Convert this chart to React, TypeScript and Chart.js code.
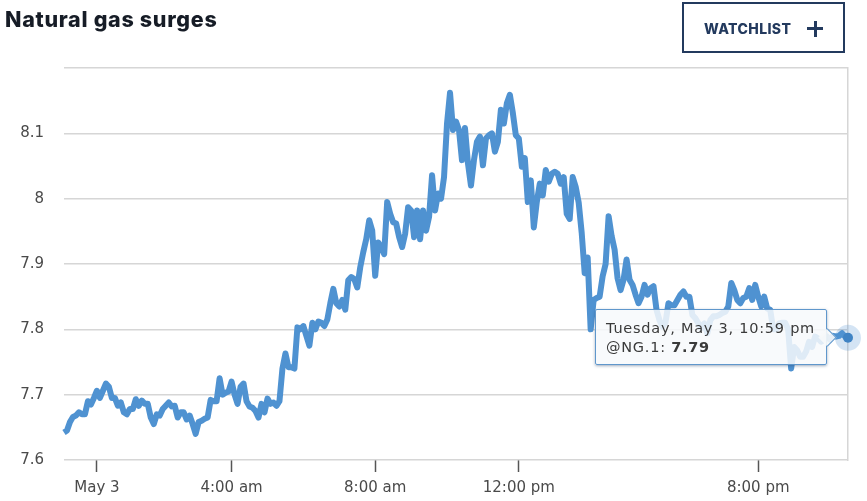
import { useEffect, useRef } from 'react';
import { Chart, registerables } from 'chart.js';

Chart.register(...registerables);

const overnight = [
  7.642, 7.645, 7.658, 7.666, 7.668, 7.673, 7.67, 7.67, 7.69, 7.685, 7.695, 7.706, 7.695, 7.706, 7.717, 7.712,
  7.695, 7.695, 7.683, 7.688, 7.673, 7.67, 7.678, 7.678, 7.693, 7.683, 7.691, 7.686, 7.686, 7.665, 7.655, 7.67,
  7.668, 7.678, 7.683, 7.688, 7.682, 7.683, 7.665, 7.673, 7.673, 7.662, 7.668, 7.655, 7.64, 7.658, 7.66, 7.663,
  7.665, 7.692, 7.69, 7.69, 7.725, 7.7, 7.703, 7.705, 7.72, 7.7, 7.686, 7.712, 7.717, 7.69, 7.682, 7.68,
  7.675, 7.665, 7.686, 7.673, 7.694, 7.686, 7.688, 7.683, 7.69, 7.74, 7.763, 7.742, 7.742, 7.74, 7.803,
];
const morning = [
  7.8, 7.805, 7.79, 7.775, 7.81, 7.8, 7.812, 7.81, 7.805, 7.815, 7.84, 7.862, 7.84, 7.835, 7.845, 7.83,
  7.875, 7.88, 7.877, 7.864, 7.895, 7.918, 7.938, 7.967, 7.951, 7.882, 7.933, 7.926, 7.915, 7.995, 7.977, 7.964,
  7.962, 7.941, 7.926, 7.946, 7.987, 7.982, 7.941, 7.982, 7.938, 7.982, 7.951, 7.972, 8.036, 7.982, 8.008, 8.0,
  8.033, 8.115, 8.162, 8.105, 8.118, 8.105, 8.059, 8.108, 8.054, 8.02, 8.059, 8.087, 8.095, 8.051, 8.092, 8.097,
  8.1, 8.072, 8.087, 8.136, 8.115, 8.146, 8.159, 8.131, 8.097, 8.092,
];
const afternoon = [
  8.049, 8.062, 7.995, 8.028, 7.956, 7.995, 8.023, 8.005, 8.044, 8.026, 8.038, 8.041, 8.038, 8.023, 8.033, 7.977,
  7.969, 8.033, 8.018, 7.994, 7.948, 7.886, 7.91, 7.8, 7.845, 7.848, 7.85, 7.881, 7.9, 7.973, 7.943, 7.922,
  7.878, 7.86, 7.876, 7.907, 7.876, 7.868, 7.853, 7.84, 7.85, 7.868, 7.853, 7.863, 7.866, 7.83, 7.814, 7.804,
  7.81, 7.84, 7.837, 7.837, 7.845, 7.853, 7.858, 7.85, 7.85, 7.822, 7.817, 7.809, 7.802, 7.809, 7.794, 7.814,
];
const evening = [
  7.82, 7.82, 7.822, 7.825, 7.827, 7.835, 7.871, 7.86, 7.845, 7.84, 7.848, 7.85, 7.863, 7.845, 7.868, 7.85,
  7.835, 7.85, 7.832, 7.83, 7.8, 7.8, 7.809, 7.81, 7.81, 7.8, 7.74, 7.773, 7.768, 7.758, 7.758, 7.766,
  7.781, 7.773, 7.789, 7.786, 7.781, 7.784, 7.789, 7.784, 7.79, 7.789, 7.79, 7.794, 7.789, 7.787,
];
const prices = [...overnight, ...morning, ...afternoon, ...evening];

const tickIndexes = [11, 56, 104, 152, 232];
const tickLabels = ['May 3', '4:00 am', '8:00 am', '12:00 pm', '8:00 pm'];
const lastTime = 'Tuesday, May 3, 10:59 pm';
const symbol = '@NG.1';

const last = prices.length - 1;
const xLabels = prices.map((_, i) => (tickIndexes.includes(i) ? tickLabels[tickIndexes.indexOf(i)] : ''));
const markerValues = prices.map((v, i) => (i === last ? v : null));

const LINE = '#4f92d1';
const GRID = '#d6d6d6';
const TEXT = '#4a4a4a';
const NAVY = '#233a5e';

export default function App() {
  const canvasRef = useRef<HTMLCanvasElement>(null);
  const tipRef = useRef<HTMLDivElement>(null);
  const tipTitleRef = useRef<HTMLDivElement>(null);
  const tipValueRef = useRef<HTMLElement>(null);

  useEffect(() => {
    if (!canvasRef.current) return;
    const chart = new Chart(canvasRef.current, {
      type: 'line',
      data: {
        labels: xLabels,
        datasets: [
          {
            label: symbol,
            data: prices,
            borderColor: LINE,
            borderWidth: 6,
            borderJoinStyle: 'round',
            tension: 0,
            clip: false,
            pointRadius: (c: any) => (c.dataIndex === last ? 5 : 0),
            pointBackgroundColor: '#3f83c4',
            pointBorderWidth: 0,
          },
          {
            label: 'halo',
            data: markerValues,
            showLine: false,
            clip: false,
            pointRadius: 13,
            pointBackgroundColor: 'rgba(74, 143, 208, 0.24)',
            pointBorderWidth: 0,
          },
        ],
      },
      options: {
        responsive: false,
        animation: false,
        events: [],
        layout: { padding: { top: 68, right: 19, left: 0, bottom: 0 } },
        plugins: {
          legend: { display: false },
          tooltip: {
            enabled: false,
            callbacks: { title: () => lastTime },
            external: ({ tooltip }: any) => {
              if (!tipRef.current || !tooltip.dataPoints?.length) return;
              tipRef.current.style.left = `${tooltip.caretX - 253}px`;
              tipRef.current.style.top = `${tooltip.caretY - 29}px`;
              tipRef.current.style.display = 'block';
              tipTitleRef.current!.textContent = tooltip.title[0];
              tipValueRef.current!.textContent = tooltip.dataPoints[0].parsed.y.toFixed(2);
            },
          },
        },
        scales: {
          x: {
            afterFit: (s: any) => { s.height = 41; },
            afterBuildTicks: (s: any) => { s.ticks = tickIndexes.map((value) => ({ value })); },
            border: { display: false },
            grid: { drawOnChartArea: false, drawTicks: true, tickLength: 12, tickColor: '#555', tickWidth: 1.5 },
            ticks: {
              autoSkip: false,
              maxRotation: 0,
              padding: 7,
              color: TEXT,
              font: { family: 'DejaVu Sans', size: 15 },
            },
          },
          y: {
            min: 7.6,
            max: 8.2,
            afterFit: (s: any) => { s.width = 64; },
            border: { display: false },
            grid: { color: GRID, lineWidth: 1.5, drawTicks: false },
            ticks: {
              stepSize: 0.1,
              padding: 20,
              color: TEXT,
              font: { family: 'DejaVu Sans', size: 15 },
              callback: (v: any) => (Number(v) > 8.15 ? '' : `${+Number(v).toFixed(1)}`),
            },
          },
          edge: {
            position: 'right',
            min: 7.6,
            max: 8.2,
            afterFit: (s: any) => { s.width = 0; },
            border: { color: GRID, width: 1.5 },
            grid: { display: false },
            ticks: { display: false },
          },
        },
      } as any,
    });
    chart.tooltip?.setActiveElements([{ datasetIndex: 0, index: last }], { x: 848, y: 338 });
    chart.render();
    return () => chart.destroy();
  }, []);

  return (
    <div style={{ position: 'absolute', left: 0, top: 0, width: 867, height: 501, background: '#fff', overflow: 'hidden' }}>
      <canvas ref={canvasRef} width={867} height={501} style={{ position: 'absolute', left: 0, top: 0 }} />
      <div style={{ position: 'absolute', left: 5, top: 6, font: '800 21.5px Inter', letterSpacing: 0.7, color: '#161c26', whiteSpace: 'nowrap' }}>
        Natural gas surges
      </div>
      <div style={{ position: 'absolute', left: 682, top: 2, width: 159, height: 47, border: `2px solid ${NAVY}`, color: NAVY }}>
        <span style={{ position: 'absolute', left: 20, top: 16, font: '800 14px Inter', letterSpacing: 0.4, whiteSpace: 'nowrap' }}>WATCHLIST</span>
        <span style={{ position: 'absolute', left: 123, top: 23, width: 16, height: 3, background: NAVY }} />
        <span style={{ position: 'absolute', left: 129.5, top: 16.5, width: 3, height: 16, background: NAVY }} />
      </div>
      <div
        ref={tipRef}
        style={{
          display: 'none', position: 'absolute', width: 232, height: 56, boxSizing: 'border-box',
          background: 'rgba(247, 249, 251, 0.86)', border: '1px solid #5f97cc', borderRadius: 2,
          boxShadow: '0 1px 3px rgba(40, 70, 110, 0.45)', color: '#3a3a3a',
          font: '14.5px "DejaVu Sans"', letterSpacing: 0.75, lineHeight: '19px', padding: '9px 0 0 10px', whiteSpace: 'nowrap',
        }}
      >
        <div ref={tipTitleRef} />
        <div>{symbol}: <b ref={tipValueRef} /></div>
        <span style={{
          position: 'absolute', right: -8, top: 21, width: 12, height: 12, transform: 'rotate(45deg)',
          background: 'rgba(247, 249, 251, 0.9)', borderTop: '1px solid #5f97cc', borderRight: '1px solid #5f97cc',
        }} />
      </div>
    </div>
  );
}
